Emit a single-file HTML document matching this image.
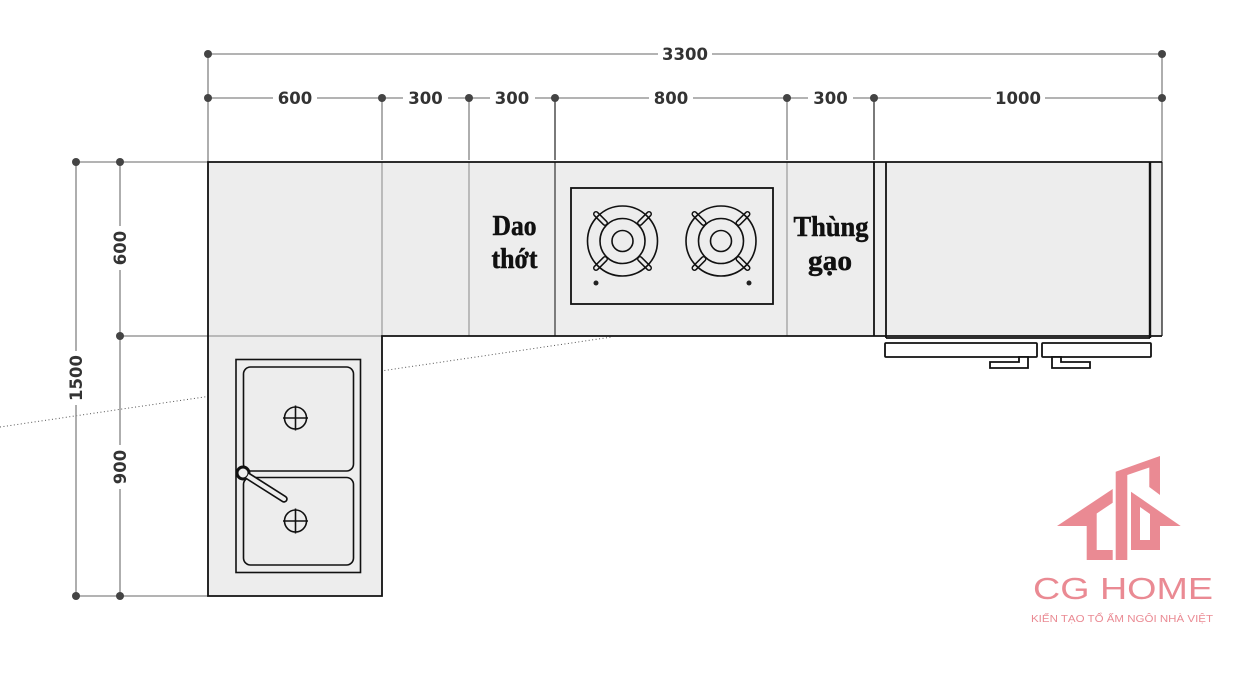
<!DOCTYPE html>
<html><head><meta charset="utf-8"><style>
html,body{margin:0;padding:0;background:#fff;}
svg{display:block;}
.dim{font-family:"DejaVu Sans","Liberation Sans",sans-serif;font-weight:bold;font-size:16.5px;fill:#333;}
.lbl{font-family:"Liberation Serif",serif;font-weight:bold;font-size:28px;fill:#111;stroke:#111;stroke-width:0.5;}
</style></head><body>
<svg width="1258" height="677" viewBox="0 0 1258 677" xmlns="http://www.w3.org/2000/svg">
<rect width="1258" height="677" fill="#fff"/>
<!-- dotted line -->
<line x1="0" y1="427" x2="612" y2="337" stroke="#555" stroke-width="1" stroke-dasharray="1 2.5"/>

<!-- dimension lines top -->
<g stroke="#9a9a9a" stroke-width="1.6" fill="none">
  <line x1="208" y1="54" x2="1162" y2="54"/>
  <line x1="208" y1="98" x2="1162" y2="98"/>
  <line x1="208" y1="54" x2="208" y2="162"/>
  <line x1="1162" y1="54" x2="1162" y2="162"/>
  <line x1="382" y1="98" x2="382" y2="160"/>
  <line x1="469" y1="98" x2="469" y2="160"/>
  <line x1="787" y1="98" x2="787" y2="160"/>
  <line x1="76" y1="162" x2="76" y2="596"/>
  <line x1="120" y1="162" x2="120" y2="596"/>
  <line x1="76" y1="162" x2="208" y2="162"/>
  <line x1="120" y1="336" x2="208" y2="336"/>
  <line x1="76" y1="596" x2="208" y2="596"/>
</g>
<g stroke="#333" stroke-width="1.3">
  <line x1="555" y1="98" x2="555" y2="160"/>
  <line x1="874" y1="98" x2="874" y2="160"/>
</g>
<g fill="#fff">
  <rect x="658" y="44" width="54" height="20"/>
  <rect x="273" y="88" width="44" height="20"/>
  <rect x="403" y="88" width="45" height="20"/>
  <rect x="490" y="88" width="45" height="20"/>
  <rect x="649" y="88" width="44" height="20"/>
  <rect x="808" y="88" width="45" height="20"/>
  <rect x="991" y="88" width="54" height="20"/>
  <rect x="66" y="351" width="20" height="54"/>
  <rect x="110" y="226" width="20" height="44"/>
  <rect x="110" y="445" width="20" height="44"/>
</g>
<g class="dim" text-anchor="middle">
  <text x="685" y="60">3300</text>
  <text x="295" y="104">600</text>
  <text x="425.5" y="104">300</text>
  <text x="512" y="104">300</text>
  <text x="671" y="104">800</text>
  <text x="830.5" y="104">300</text>
  <text x="1018" y="104">1000</text>
  <text transform="translate(82,378) rotate(-90)">1500</text>
  <text transform="translate(126,248) rotate(-90)">600</text>
  <text transform="translate(126,467) rotate(-90)">900</text>
</g>
<g fill="#444">
  <circle cx="208" cy="54" r="4"/><circle cx="1162" cy="54" r="4"/>
  <circle cx="208" cy="98" r="4"/><circle cx="382" cy="98" r="4"/>
  <circle cx="469" cy="98" r="4"/><circle cx="555" cy="98" r="4"/>
  <circle cx="787" cy="98" r="4"/><circle cx="874" cy="98" r="4"/>
  <circle cx="1162" cy="98" r="4"/>
  <circle cx="76" cy="162" r="4"/><circle cx="76" cy="596" r="4"/>
  <circle cx="120" cy="162" r="4"/><circle cx="120" cy="336" r="4"/><circle cx="120" cy="596" r="4"/>
</g>

<!-- counter -->
<rect x="208" y="162" width="954" height="174" fill="#ededed"/>
<rect x="208" y="336" width="174" height="260" fill="#ededed"/>
<g stroke="#9a9a9a" stroke-width="1.2">
  <line x1="208" y1="336" x2="382" y2="336"/>
  <line x1="382" y1="162" x2="382" y2="336"/>
  <line x1="469" y1="162" x2="469" y2="336"/>
  <line x1="787" y1="162" x2="787" y2="336"/>
</g>
<line x1="555" y1="162" x2="555" y2="336" stroke="#333" stroke-width="1.2"/>
<g stroke="#111" stroke-width="1.8" fill="none">
  <path d="M1162,162 H208 V596 H382 V336 H1162"/>
  <line x1="874" y1="162" x2="874" y2="336"/>
  <line x1="886" y1="162" x2="886" y2="338"/>
  <line x1="886" y1="338" x2="1150" y2="338"/>
  <line x1="1150" y1="162" x2="1150" y2="338" stroke-width="2.4"/>
  <line x1="1162" y1="162" x2="1162" y2="336" stroke-width="1.2"/>
</g>
<g stroke="#111" stroke-width="1.8" fill="#fff">
  <rect x="885" y="343" width="152" height="14" rx="1"/>
  <rect x="1042" y="343" width="109" height="14" rx="1"/>
  <path d="M990,362 H1019 V357 H1028 V368 H990 Z"/>
  <path d="M1052,357 H1061 V362 H1090 V368 H1052 Z"/>
</g>

<!-- stove -->
<rect x="571" y="188" width="202" height="116" fill="none" stroke="#111" stroke-width="1.8"/>
<g>
  <g stroke="#111" stroke-width="6" stroke-linecap="round">
    <line x1="605" y1="223" x2="596" y2="214"/><line x1="640" y1="223" x2="649" y2="214"/>
    <line x1="605" y1="259" x2="596" y2="268"/><line x1="640" y1="259" x2="649" y2="268"/>
  </g>
  <g stroke="#ededed" stroke-width="3" stroke-linecap="round">
    <line x1="605" y1="223" x2="596" y2="214"/><line x1="640" y1="223" x2="649" y2="214"/>
    <line x1="605" y1="259" x2="596" y2="268"/><line x1="640" y1="259" x2="649" y2="268"/>
  </g>
  <g stroke="#111" stroke-width="1.6" fill="none">
    <circle cx="622.5" cy="241" r="35"/><circle cx="622.5" cy="241" r="22.5"/><circle cx="622.5" cy="241" r="10.5"/>
  </g>
</g>
<g transform="translate(98.5,0)">
  <g stroke="#111" stroke-width="6" stroke-linecap="round">
    <line x1="605" y1="223" x2="596" y2="214"/><line x1="640" y1="223" x2="649" y2="214"/>
    <line x1="605" y1="259" x2="596" y2="268"/><line x1="640" y1="259" x2="649" y2="268"/>
  </g>
  <g stroke="#ededed" stroke-width="3" stroke-linecap="round">
    <line x1="605" y1="223" x2="596" y2="214"/><line x1="640" y1="223" x2="649" y2="214"/>
    <line x1="605" y1="259" x2="596" y2="268"/><line x1="640" y1="259" x2="649" y2="268"/>
  </g>
  <g stroke="#111" stroke-width="1.6" fill="none">
    <circle cx="622.5" cy="241" r="35"/><circle cx="622.5" cy="241" r="22.5"/><circle cx="622.5" cy="241" r="10.5"/>
  </g>
</g>
<circle cx="596" cy="283" r="2.5" fill="#222"/>
<circle cx="749" cy="283" r="2.5" fill="#222"/>

<!-- labels -->
<g class="lbl" text-anchor="middle">
  <text x="514.5" y="235" textLength="44" lengthAdjust="spacingAndGlyphs">Dao</text>
  <text x="514.5" y="268" textLength="46" lengthAdjust="spacingAndGlyphs">thớt</text>
  <text x="831" y="236" textLength="75" lengthAdjust="spacingAndGlyphs">Thùng</text>
  <text x="830" y="270" textLength="44" lengthAdjust="spacingAndGlyphs">gạo</text>
</g>

<!-- sink -->
<g stroke="#111" stroke-width="1.6" fill="none">
  <rect x="236" y="359.5" width="124.5" height="213"/>
  <rect x="243.5" y="367" width="110" height="104" rx="7"/>
  <rect x="243.5" y="477.5" width="110" height="87.5" rx="7"/>
  <circle cx="295.5" cy="418" r="11"/>
  <line x1="283" y1="418" x2="308" y2="418"/><line x1="295.5" y1="405.5" x2="295.5" y2="430.5"/>
  <circle cx="295.5" cy="521" r="11"/>
  <line x1="283" y1="521" x2="308" y2="521"/><line x1="295.5" y1="508.5" x2="295.5" y2="533.5"/>
</g>
<line x1="243" y1="473" x2="284" y2="499" stroke="#111" stroke-width="7.5" stroke-linecap="round"/>
<circle cx="243" cy="473" r="7.5" fill="#111"/>
<line x1="243" y1="473" x2="284" y2="499" stroke="#ededed" stroke-width="4.2" stroke-linecap="round"/>
<circle cx="243" cy="473" r="5" fill="#ededed" stroke="#111" stroke-width="1"/>

<!-- logo -->
<g fill="#ea8a93">
  <path d="M1057,526 L1112.7,489 L1112.7,502.7 L1096.7,513.5 L1096.7,550 L1112.7,550 L1112.7,560 L1086.7,560 L1086.7,526 Z"/>
  <path d="M1115.7,560 L1115.7,471.7 L1160,456 L1160,495 L1149.3,487 L1149.3,467.5 L1127.3,475 L1127.3,560 Z"/>
  <path fill-rule="evenodd" d="M1131,491.7 L1180.7,526 L1160,526 L1160,550 L1131,550 Z M1140,507 L1150,514 L1150,540 L1140,540 Z"/>
  <text x="1033" y="599" font-family="Liberation Sans, sans-serif" font-size="31" textLength="180" lengthAdjust="spacingAndGlyphs">CG HOME</text>
  <text x="1031" y="622" font-family="Liberation Sans, DejaVu Sans, sans-serif" font-size="10" textLength="182" lengthAdjust="spacingAndGlyphs">KIẾN TẠO TỔ ẤM NGÔI NHÀ VIỆT</text>
</g>
</svg>
</body></html>
